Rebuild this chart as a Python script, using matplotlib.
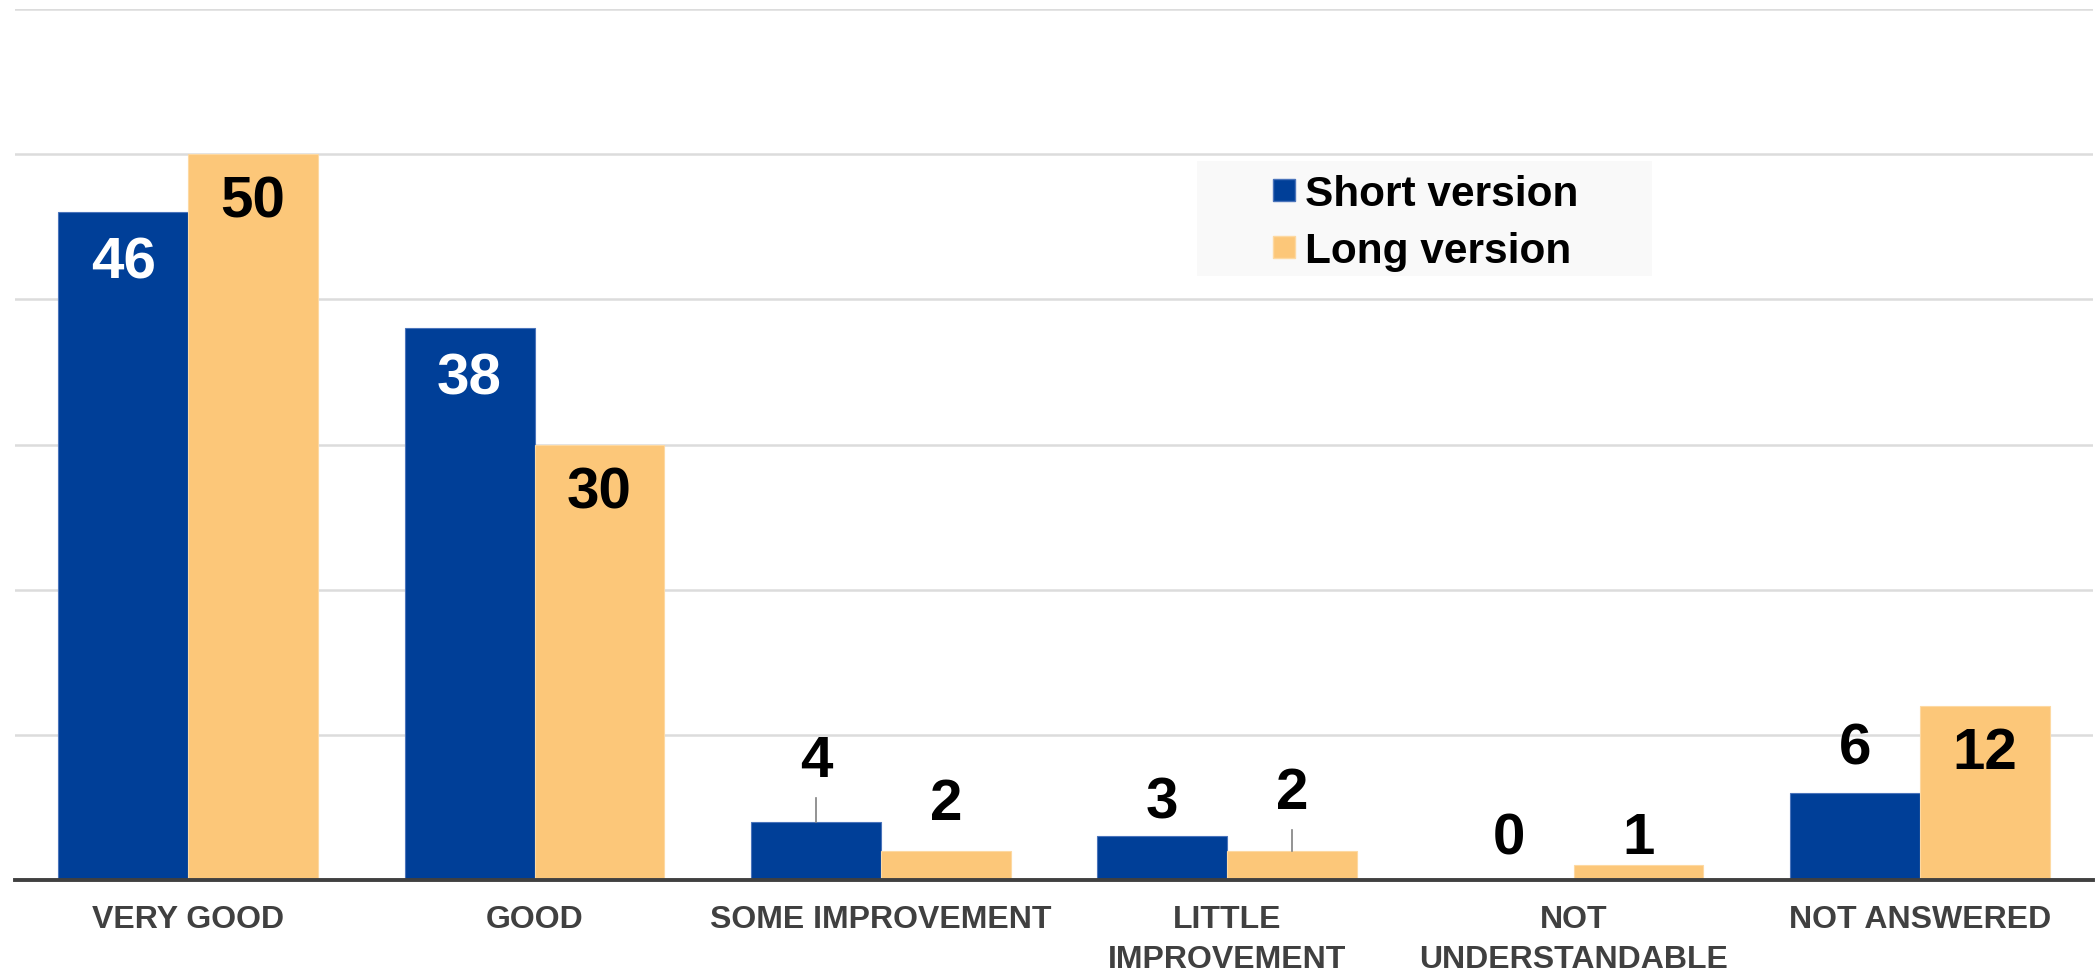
import matplotlib
matplotlib.use("Agg")
import matplotlib.pyplot as plt
import numpy as np
from matplotlib.patches import Rectangle

# ---- data ----
categories = ["VERY GOOD", "GOOD", "SOME IMPROVEMENT", "LITTLE\nIMPROVEMENT",
              "NOT\nUNDERSTANDABLE", "NOT ANSWERED"]
short_version = [46, 38, 4, 3, 0, 6]
long_version = [50, 30, 2, 2, 1, 12]
series_names = ["Short version", "Long version"]

# ---- layout / style ----
BLUE = "#003f98"
ORANGE = "#fcc779"
# label centre offsets from bar top (data units)
short_off = [-3.5, -3.5, 4.1, 2.3, 2.8, 3.0]
long_off = [-3.3, -3.4, 3.2, 3.9, 1.8, -3.3]
short_lab_col = ["white", "white", "black", "black", "black", "black"]
long_lab_col = ["black", "black", "black", "black", "black", "black"]
# leader lines: (series, index, top of line in data units)
leaders = [(0, 2, 5.65), (1, 3, 3.44)]

plt.rcParams['font.family'] = ['Liberation Sans', 'DejaVu Sans']

W, H = 2100, 976
fig = plt.figure(figsize=(W / 100, H / 100), dpi=100)
ax = fig.add_axes([15 / W, 1 - 880 / H, (2093 - 15) / W, (880 - 9) / H])

x = np.arange(len(categories))
bw = 0.375
b1 = ax.bar(x - bw / 2, short_version, bw, color=BLUE, edgecolor="#4a74bb",
            linewidth=0.8, zorder=3)
b2 = ax.bar(x + bw / 2, long_version, bw, color=ORANGE, edgecolor="#fdd9a2",
            linewidth=0.8, zorder=3)

ax.set_xlim(-0.5, len(categories) - 0.5)
ax.set_ylim(0, 60)
ax.set_yticks(np.arange(0, 61, 10))
ax.yaxis.grid(True, color="#dcdcdc", linewidth=1.8, zorder=0)
ax.set_axisbelow(True)
for s in ["top", "right", "left"]:
    ax.spines[s].set_visible(False)
ax.spines["bottom"].set_color("#404040")
ax.spines["bottom"].set_linewidth(2.8)
ax.spines["bottom"].set_zorder(5)
ax.tick_params(axis="y", left=False, labelleft=False)
ax.tick_params(axis="x", length=0, pad=18)
ax.set_xticks(x)
ax.set_xticklabels(categories, fontsize=23, fontweight="bold", color="#404040",
                   linespacing=1.45)

# value labels
for i in range(len(categories)):
    ax.text(x[i] - bw / 2, short_version[i] + short_off[i], str(short_version[i]),
            ha="center", va="center", fontsize=42, fontweight="bold",
            color=short_lab_col[i], zorder=6)
    ax.text(x[i] + bw / 2, long_version[i] + long_off[i], str(long_version[i]),
            ha="center", va="center", fontsize=42, fontweight="bold",
            color=long_lab_col[i], zorder=6)

vals = [short_version, long_version]
for s, i, top in leaders:
    xc = x[i] + (-bw / 2 if s == 0 else bw / 2)
    ax.plot([xc, xc], [vals[s][i], top], color="#808080", linewidth=1.2, zorder=4)

# legend (drawn in figure pixel coordinates)
def fx(px):
    return px / W

def fy(py):
    return 1 - py / H

fig.patches.append(Rectangle((fx(1197), fy(276)), fx(1652) - fx(1197), fy(161) - fy(276),
                             transform=fig.transFigure, facecolor="#f9f9f9",
                             edgecolor="none", zorder=1))
leg_rows = [(190, BLUE, "#4a74bb"), (247, ORANGE, "#fdd9a2")]
for (cy, fc, ec), name in zip(leg_rows, series_names):
    fig.patches.append(Rectangle((fx(1273), fy(cy + 11)), 22 / W, 22 / H,
                                 transform=fig.transFigure, facecolor=fc,
                                 edgecolor=ec, linewidth=1, zorder=2))
    fig.text(fx(1305), fy(cy), name, ha="left", va="center_baseline",
             fontsize=30.5, fontweight="bold", color="black", zorder=3)

fig.savefig("out.png", dpi=100)
